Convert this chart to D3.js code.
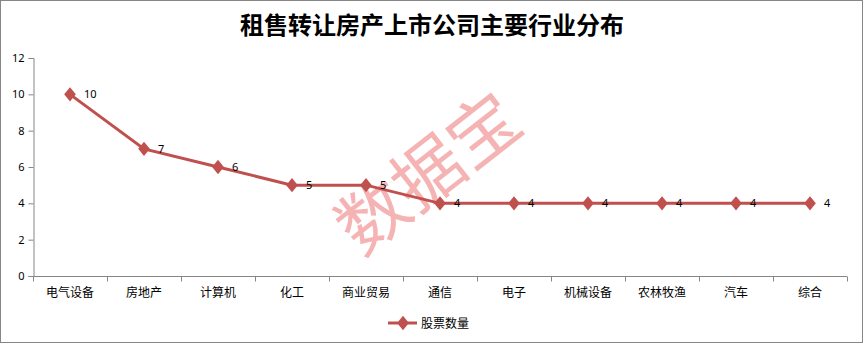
<!DOCTYPE html>
<html>
<head>
<meta charset="utf-8">
<script src="https://cdn.jsdelivr.net/npm/d3@7"></script>
<style>
  body { margin: 0; background: #fff; }
  svg { display: block; font-family: "Noto Sans CJK SC", "Noto Sans", sans-serif; }
</style>
</head>
<body>
<svg width="864" height="344"></svg>
<script>
// chart data
const title = '租售转让房产上市公司主要行业分布'
const categories = ['电气设备', '房地产', '计算机', '化工', '商业贸易', '通信', '电子', '机械设备', '农林牧渔', '汽车', '综合']
const stockCounts = [10, 7, 6, 5, 5, 4, 4, 4, 4, 4, 4]
const yTicks = [0, 2, 4, 6, 8, 10, 12]
const seriesName = '股票数量'

const lineColor = '#c0504d'
const svg = d3.select('svg')

// outer frame
svg.append('rect')
  .attr('x', 0.5).attr('y', 0.5)
  .attr('width', 862).attr('height', 342)
  .attr('fill', '#fff')
  .attr('stroke', '#868686')

// title
svg.append('text')
  .attr('x', 432).attr('y', 34)
  .attr('text-anchor', 'middle')
  .attr('font-size', 24)
  .attr('font-weight', 'bold')
  .attr('fill', '#000')
  .text(title)

// scales
const x = d3.scaleBand().domain(categories).range([33, 847])
const y = d3.scaleLinear().domain([0, 12]).range([276, 58])

// y axis
const yAxis = svg.append('g')
  .attr('transform', 'translate(33.5,0)')
  .call(d3.axisLeft(y).tickValues(yTicks).tickSize(5).tickPadding(4))
yAxis.selectAll('path, line').attr('stroke', '#868686')
yAxis.selectAll('text').attr('font-size', 11).attr('fill', '#000').attr('font-family', 'Noto Sans, sans-serif')

// x axis with ticks at category boundaries
const xAxis = svg.append('g').attr('transform', 'translate(0,276.5)')
xAxis.append('line')
  .attr('x1', x.range()[0]).attr('x2', x.range()[1])
  .attr('stroke', '#868686')
const boundaries = categories.map(c => x(c)).concat([x.range()[1]])
xAxis.selectAll('line.tick')
  .data(boundaries)
  .enter()
  .append('line')
  .attr('class', 'tick')
  .attr('x1', d => Math.round(d) + 0.5).attr('x2', d => Math.round(d) + 0.5)
  .attr('y1', 0).attr('y2', 5)
  .attr('stroke', '#868686')
xAxis.selectAll('text')
  .data(categories)
  .enter()
  .append('text')
  .attr('x', d => x(d) + x.bandwidth() / 2)
  .attr('y', 20)
  .attr('text-anchor', 'middle')
  .attr('font-size', 12)
  .attr('fill', '#000')
  .text(d => d)

// watermark
svg.append('text')
  .attr('transform', 'translate(432,178) rotate(-38)')
  .attr('text-anchor', 'middle')
  .attr('dominant-baseline', 'middle')
  .attr('font-size', 70)
  .attr('fill', '#f29a9a')
  .attr('fill-opacity', 0.75)
  .text('数据宝')

// line
const line = d3.line()
  .x((d, i) => x(categories[i]) + x.bandwidth() / 2)
  .y(d => y(d))

svg.append('path')
  .datum(stockCounts)
  .attr('d', line)
  .attr('fill', 'none')
  .attr('stroke', lineColor)
  .attr('stroke-width', 3)

const diamond = d3.symbol().type(d3.symbolDiamond).size(60)

svg.selectAll('path.marker')
  .data(stockCounts)
  .enter()
  .append('path')
  .attr('class', 'marker')
  .attr('d', diamond)
  .attr('transform', (d, i) => `translate(${x(categories[i]) + x.bandwidth() / 2},${y(d)}) scale(1.4,1)`)
  .attr('fill', lineColor)

// value labels
svg.selectAll('text.value')
  .data(stockCounts)
  .enter()
  .append('text')
  .attr('class', 'value')
  .attr('x', (d, i) => x(categories[i]) + x.bandwidth() / 2 + 14)
  .attr('y', d => y(d) + 4)
  .attr('font-size', 11)
  .attr('font-family', 'Noto Sans, sans-serif')
  .attr('fill', '#000')
  .text(d => d)

// legend
const legend = svg.append('g').attr('transform', 'translate(388,323)')
legend.append('line')
  .attr('x1', 0).attr('x2', 29)
  .attr('stroke', lineColor)
  .attr('stroke-width', 3)
legend.append('path')
  .attr('d', diamond)
  .attr('transform', 'translate(15,0) scale(1.4,1)')
  .attr('fill', lineColor)
legend.append('text')
  .attr('x', 33).attr('y', 4.5)
  .attr('font-size', 12)
  .attr('fill', '#000')
  .text(seriesName)
</script>
</body>
</html>
